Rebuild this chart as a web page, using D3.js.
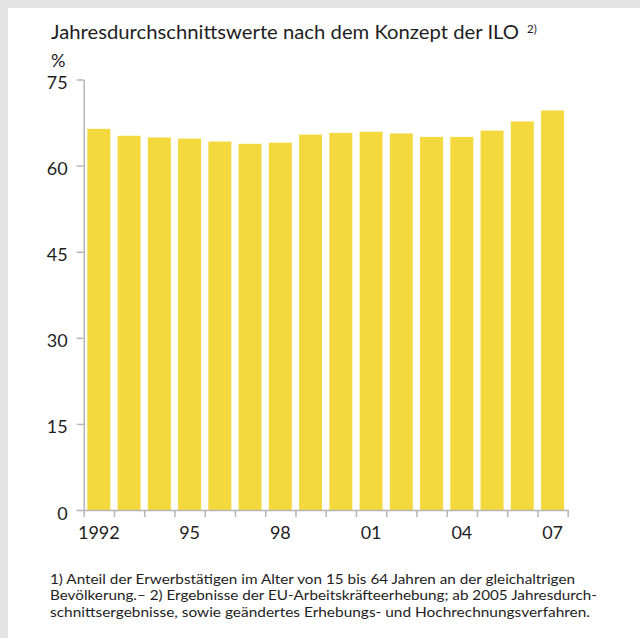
<!DOCTYPE html>
<html><head>
<meta charset="utf-8">
<script src="https://d3js.org/d3.v7.min.js"></script>
<style>
  html, body { margin: 0; padding: 0; background: #fff; }
  text { font-family: Lato, "Open Sans", sans-serif; fill: #1e1e1e; }
  .axis path, .axis line { stroke: #b5b5b5; stroke-width: 1.5px; }
</style>
</head>
<body>
<script>
// Erwerbstaetigenquote, Jahresdurchschnitt (ILO), in %
var years = ["1992","1993","1994","1995","1996","1997","1998","1999",
             "2000","2001","2002","2003","2004","2005","2006","2007"];
var values = [66.4, 65.2, 64.9, 64.7, 64.2, 63.8, 64.0, 65.4,
              65.7, 65.9, 65.6, 65.0, 65.0, 66.1, 67.7, 69.6];
var yTicks = [0, 15, 30, 45, 60, 75];
var xLabelYears = ["1992","1995","1998","2001","2004","2007"];
var xLabels = ["1992","95","98","01","04","07"];

var title = "Jahresdurchschnittswerte nach dem Konzept der ILO";
var notes = [
  "1) Anteil der Erwerbstätigen im Alter von 15 bis 64 Jahren an der gleichaltrigen",
  "Bevölkerung.– 2) Ergebnisse der EU-Arbeitskräfteerhebung; ab 2005 Jahresdurch-",
  "schnittsergebnisse, sowie geändertes Erhebungs- und Hochrechnungsverfahren."
];

var W = 640, H = 638;
var svg = d3.select("body").append("svg")
    .attr("width", W).attr("height", H);

// grey frame top/left
svg.append("rect").attr("width", W).attr("height", H).attr("fill", "#e4e4e4");
svg.append("rect").attr("x", 8).attr("y", 8)
    .attr("width", W - 8).attr("height", H - 8).attr("fill", "#fff");

// title
svg.append("text").attr("x", 51).attr("y", 39)
    .style("font-size", "18.5px")
    .attr("textLength", 468).attr("lengthAdjust", "spacingAndGlyphs")
    .text(title);
svg.append("text").attr("x", 527).attr("y", 33)
    .style("font-size", "11.5px").text("2)");

var x0 = 83.7, x1 = 567.7, yTop = 79.5, yBase = 510;

var x = d3.scaleBand().domain(years).range([x0, x1])
    .paddingInner(0.24).paddingOuter(0.12);
var y = d3.scaleLinear().domain([0, 75]).range([yBase, yTop]);

// bars
svg.append("g").selectAll("rect").data(years).join("rect")
    .attr("x", function(d) { return x(d); })
    .attr("width", x.bandwidth())
    .attr("y", function(d, i) { return y(values[i]); })
    .attr("height", function(d, i) { return yBase - y(values[i]); })
    .attr("fill", "#f4d93e");

// y axis
var yAxis = svg.append("g").attr("class", "axis")
    .attr("transform", "translate(" + x0 + ",0)")
    .call(d3.axisLeft(y).tickValues(yTicks).tickSize(7).tickSizeOuter(0).tickPadding(9));
yAxis.selectAll("text").style("font-size", "18px").attr("dy", "0.5em");

svg.append("text").attr("x", 51).attr("y", 67)
    .style("font-size", "18px").text("%");

// x axis: ticks sit on the band boundaries
var edge = d3.scaleLinear().domain([0, years.length]).range([x0, x1]);
svg.append("g").attr("class", "axis")
    .attr("transform", "translate(0," + yBase + ")")
    .call(d3.axisBottom(edge).tickValues(d3.range(years.length + 1))
        .tickFormat("").tickSize(7).tickSizeOuter(0));

svg.append("g").selectAll("text").data(xLabelYears).join("text")
    .attr("x", function(d) { return x(d) + x.bandwidth() / 2; })
    .attr("y", 538.5)
    .attr("text-anchor", "middle")
    .style("font-size", "18px")
    .text(function(d, i) { return xLabels[i]; });

// footnotes
var noteW = [525, 547, 540];
svg.append("g").selectAll("text").data(notes).join("text")
    .attr("x", 50)
    .attr("y", function(d, i) { return 583.5 + i * 16.8; })
    .attr("textLength", function(d, i) { return noteW[i]; })
    .attr("lengthAdjust", "spacingAndGlyphs")
    .style("font-size", "14px")
    .text(function(d) { return d; });
</script>
</body></html>
